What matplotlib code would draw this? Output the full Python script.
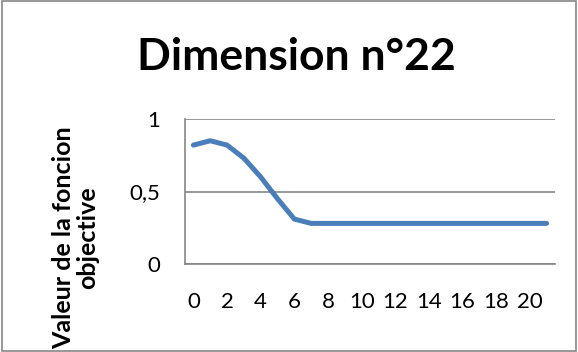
import matplotlib.pyplot as plt
from matplotlib.patches import Rectangle
from matplotlib.ticker import FuncFormatter

# data
iterations = list(range(22))
values = [0.82, 0.85, 0.82, 0.73, 0.60, 0.45, 0.31, 0.28, 0.28, 0.28, 0.28,
          0.28, 0.28, 0.28, 0.28, 0.28, 0.28, 0.28, 0.28, 0.28, 0.28, 0.28]
x_ticks = list(range(0, 21, 2))
y_ticks = [0, 0.5, 1]

plt.rcParams['font.family'] = ['Lato', 'DejaVu Sans']

fig = plt.figure(figsize=(5.78, 3.52), dpi=100)
ax = fig.add_axes([185 / 578, 1 - 264 / 352, 370 / 578, 145 / 352])

ax.plot(iterations, values, color='#4a7ebb', linewidth=3.6,
        solid_capstyle='round', solid_joinstyle='round', zorder=3)

ax.set_xlim(-0.5, 21.5)
ax.set_ylim(0, 1)
ax.set_xticks(x_ticks)
ax.set_yticks(y_ticks)
ax.yaxis.set_major_formatter(FuncFormatter(lambda v, p: f'{v:g}'.replace('.', ',')))
ax.tick_params(length=0, labelsize=16)
ax.tick_params(axis='x', pad=20)
ax.tick_params(axis='y', pad=18)
ax.grid(axis='y', color='#868686', linewidth=1.2)
ax.set_axisbelow(True)
for s in ['top', 'right']:
    ax.spines[s].set_visible(False)
for s in ['left', 'bottom']:
    ax.spines[s].set_color('#868686')
    ax.spines[s].set_linewidth(1.2)

fig.text(76 / 578, 1 - 238 / 352, 'Valeur de la foncion\nobjective', fontsize=18,
         fontweight='bold', rotation=90, ha='center', va='center', linespacing=1.05,
         multialignment='center')
fig.text(296 / 578, 1 - 57 / 352, 'Dimension n°22', fontsize=32, fontweight='bold',
         ha='center', va='center')

fig.patches.append(Rectangle((0.003, 0.003), 0.994, 0.994, transform=fig.transFigure,
                             fill=False, edgecolor='#868686', linewidth=1.2))

fig.savefig('out.png', dpi=100)
